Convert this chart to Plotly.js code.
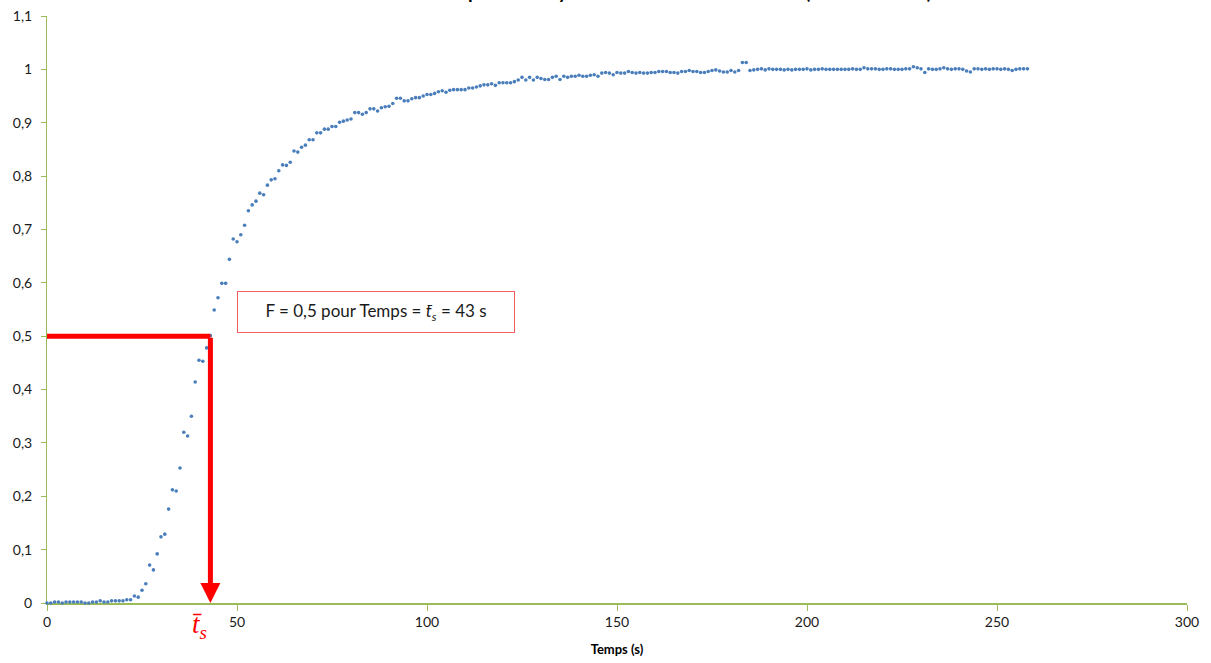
<!DOCTYPE html>
<html>
<head>
<meta charset="utf-8">
<script src="https://cdn.plot.ly/plotly-3.0.1.min.js"></script>
<style>html,body{margin:0;padding:0;background:#fff;}#chart{width:1211px;height:663px;}</style>
</head>
<body>
<div id="chart"></div>
<script>
const chartTitle = "Courbe F : réponse du système à une entrée échelon (traceur coloré)";
const xTitle = "Temps (s)";
const ts = 43;
const fHalf = 0.5;
const boxText = "F = 0,5 pour Temps = <i>t̄<sub>s</sub></i> = 43 s";
const tsLabel = "<i>t̄<sub>s</sub></i>";

const temps = [
  0,1,2,3,4,5,6,7,8,9,
  10,11,12,13,14,15,16,17,18,19,
  20,21,22,23,24,25,26,27,28,29,
  30,31,32,33,34,35,36,37,38,39,
  40,41,42,43,44,45,46,47,48,49,
  50,51,52,53,54,55,56,57,58,59,
  60,61,62,63,64,65,66,67,68,69,
  70,71,72,73,74,75,76,77,78,79,
  80,81,82,83,84,85,86,87,88,89,
  90,91,92,93,94,95,96,97,98,99,
  100,101,102,103,104,105,106,107,108,109,
  110,111,112,113,114,115,116,117,118,119,
  120,121,122,123,124,125,126,127,128,129,
  130,131,132,133,134,135,136,137,138,139,
  140,141,142,143,144,145,146,147,148,149,
  150,151,152,153,154,155,156,157,158,159,
  160,161,162,163,164,165,166,167,168,169,
  170,171,172,173,174,175,176,177,178,179,
  180,181,182,183,184,185,186,187,188,189,
  190,191,192,193,194,195,196,197,198,199,
  200,201,202,203,204,205,206,207,208,209,
  210,211,212,213,214,215,216,217,218,219,
  220,221,222,223,224,225,226,227,228,229,
  230,231,232,233,234,235,236,237,238,239,
  240,241,242,243,244,245,246,247,248,249,
  250,251,252,253,254,255,256,257,258
];

const F = [
  0, 0, 0.002, 0.002, 0, 0.002, 0.002, 0.002, 0.002, 0.002,
  0, 0, 0.002, 0.002, 0.004, 0.002, 0.002, 0.004, 0.004, 0.004,
  0.004, 0.006, 0.006, 0.013, 0.011, 0.024, 0.036, 0.071, 0.062, 0.092,
  0.124, 0.129, 0.176, 0.212, 0.210, 0.253, 0.320, 0.313, 0.350, 0.414,
  0.455, 0.453, 0.478, 0.501, 0.549, 0.572, 0.599, 0.599, 0.644, 0.682,
  0.677, 0.690, 0.708, 0.735, 0.746, 0.753, 0.768, 0.765, 0.783, 0.793,
  0.795, 0.810, 0.821, 0.820, 0.826, 0.847, 0.845, 0.854, 0.858, 0.868,
  0.868, 0.881, 0.881, 0.888, 0.888, 0.893, 0.893, 0.901, 0.903, 0.905,
  0.907, 0.919, 0.919, 0.916, 0.919, 0.926, 0.926, 0.922, 0.928, 0.930,
  0.931, 0.936, 0.946, 0.946, 0.941, 0.941, 0.945, 0.947, 0.947, 0.950,
  0.953, 0.953, 0.955, 0.958, 0.960, 0.957, 0.961, 0.962, 0.962, 0.962,
  0.962, 0.965, 0.965, 0.967, 0.969, 0.971, 0.971, 0.973, 0.970, 0.975,
  0.975, 0.975, 0.975, 0.977, 0.980, 0.985, 0.980, 0.985, 0.980, 0.985,
  0.983, 0.981, 0.981, 0.985, 0.987, 0.981, 0.987, 0.985, 0.987, 0.987,
  0.989, 0.987, 0.987, 0.989, 0.990, 0.987, 0.993, 0.994, 0.993, 0.990,
  0.994, 0.993, 0.993, 0.996, 0.994, 0.993, 0.994, 0.993, 0.993, 0.994,
  0.994, 0.996, 0.996, 0.996, 0.994, 0.994, 0.993, 0.996, 0.996, 0.998,
  0.996, 0.996, 0.994, 0.994, 0.996, 0.998, 0.999, 0.997, 0.995, 0.995,
  0.998, 0.995, 0.998, 1.013, 1.013, 0.998, 0.999, 1.000, 1.001, 0.999,
  1.001, 1.000, 1.000, 1.000, 0.999, 1.000, 0.999, 1.000, 1.000, 1.000,
  1.001, 0.999, 1.000, 1.000, 1.001, 1.000, 1.000, 1.000, 1.000, 1.000,
  1.000, 1.000, 1.001, 1.000, 1.000, 1.003, 1.001, 1.001, 1.001, 1.000,
  1.000, 1.001, 1.001, 1.000, 1.000, 1.000, 1.001, 1.001, 1.005, 1.003,
  1.001, 0.994, 1.001, 1.000, 1.000, 1.001, 1.003, 1.001, 1.000, 1.001,
  1.001, 1.000, 0.997, 0.995, 1.001, 1.001, 1.000, 1.001, 1.000, 1.001,
  1.001, 1.000, 1.001, 1.000, 0.998, 1.000, 1.001, 1.001, 1.001
];

const axisGreen = "#9bbb59";
const red = "#ff0000";

const trace = {
  x: temps,
  y: F,
  type: "scatter",
  mode: "markers",
  cliponaxis: false,
  marker: { color: "#4a7ebb", size: 3.6, symbol: "circle", line: { width: 0 } },
  hoverinfo: "x+y"
};

const layout = {
  width: 1211,
  height: 663,
  margin: { l: 47, r: 24, t: 16, b: 60 },
  paper_bgcolor: "#ffffff",
  plot_bgcolor: "#ffffff",
  separators: ", ",
  showlegend: false,
  font: { family: "Lato, 'Open Sans', sans-serif", size: 14, color: "#1a1a1a" },
  xaxis: {
    range: [0, 300],
    dtick: 50,
    tick0: 0,
    showgrid: false,
    zeroline: false,
    showline: true,
    linecolor: axisGreen,
    linewidth: 1.5,
    ticks: "outside",
    ticklen: 6,
    tickcolor: axisGreen,
    tickwidth: 1,
    layer: "below traces",
    tickfont: { size: 14, color: "#1a1a1a" },
    title: { text: "<b>" + xTitle + "</b>", font: { size: 13, color: "#000" }, standoff: 15 }
  },
  yaxis: {
    range: [0, 1.1],
    dtick: 0.1,
    tick0: 0,
    showgrid: false,
    zeroline: false,
    showline: true,
    linecolor: axisGreen,
    linewidth: 1,
    ticks: "outside",
    ticklen: 5,
    tickcolor: axisGreen,
    layer: "below traces",
    ticklabelstandoff: 6,
    tickfont: { size: 14, color: "#1a1a1a" }
  },
  shapes: [
    {
      type: "line", xref: "x", yref: "y", layer: "above",
      x0: 0, x1: ts, y0: fHalf, y1: fHalf,
      line: { color: red, width: 5 }
    }
  ],
  annotations: [
    {
      xref: "paper", yref: "paper", x: 0.525, y: 1, xanchor: "center", yanchor: "bottom",
      yshift: 11, showarrow: false,
      text: "<b>" + chartTitle + "</b>",
      font: { size: 19, color: "#000", family: "Lato, 'Open Sans', sans-serif" }
    },
    {
      xref: "x", yref: "y", axref: "x", ayref: "y",
      x: ts, y: 0, ax: ts, ay: fHalf,
      text: "", showarrow: true,
      arrowhead: 2, arrowsize: 0.8, arrowwidth: 5, arrowcolor: red,
      standoff: 0, startstandoff: 0
    },
    {
      xref: "x", yref: "y", x: 86.5, y: 0.545, xanchor: "center", yanchor: "middle",
      showarrow: false, text: boxText,
      width: 258, height: 22, borderpad: 9,
      bordercolor: "#f06060", borderwidth: 1, bgcolor: "#ffffff",
      font: { size: 17, color: "#1a1a1a", family: "Lato, 'Open Sans', sans-serif" }
    },
    {
      xref: "x", yref: "y", x: 40, y: 0, xanchor: "center", yanchor: "top",
      yshift: -4, showarrow: false, text: tsLabel,
      font: { size: 27, color: red, family: "'Liberation Serif', 'DejaVu Serif', serif" }
    }
  ]
};

Plotly.newPlot("chart", [trace], layout, { displayModeBar: false, staticPlot: true });
</script>
</body>
</html>
